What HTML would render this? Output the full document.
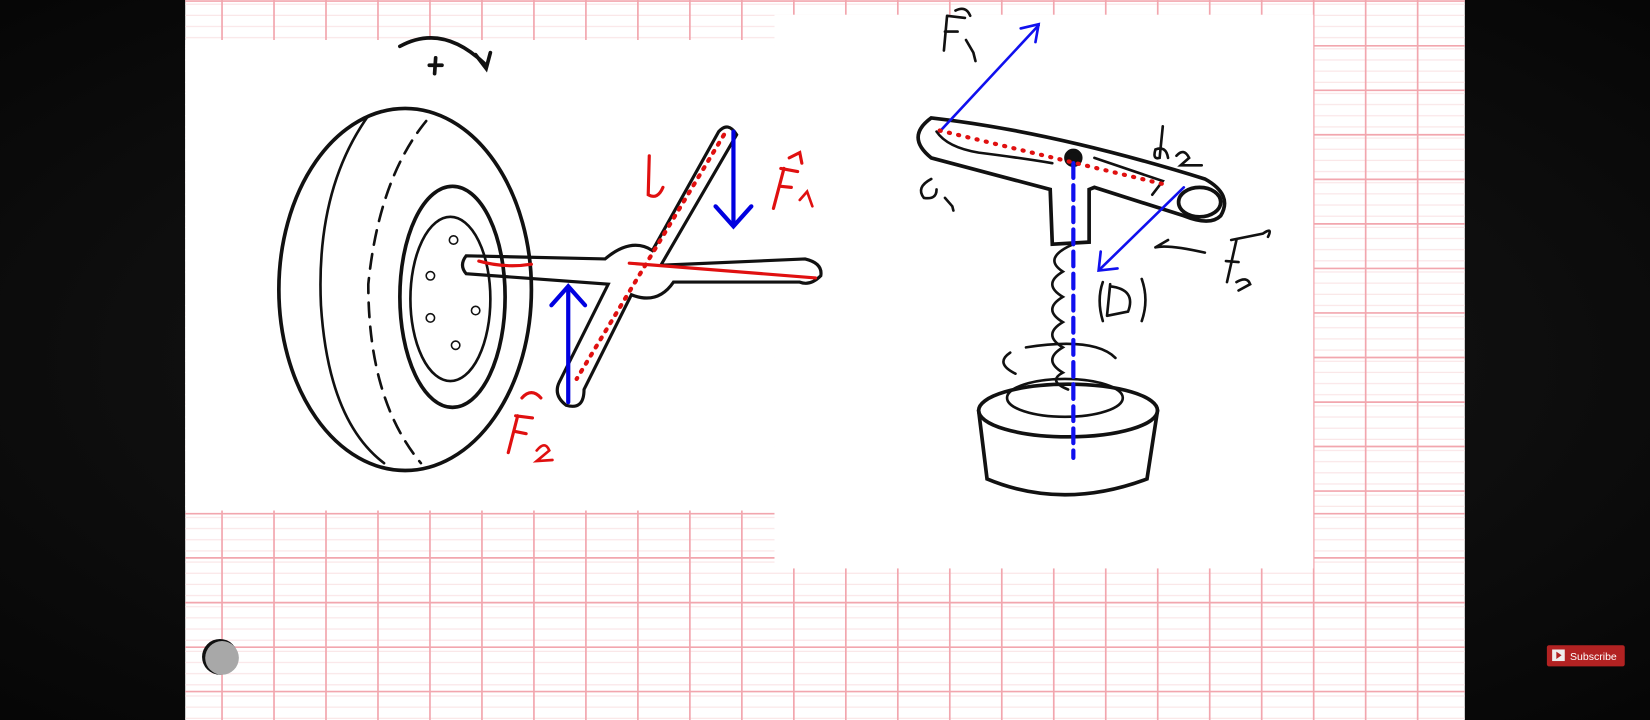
<!DOCTYPE html>
<html><head><meta charset="utf-8"><style>
html,body{margin:0;padding:0;background:#0b0b0b;}
svg{display:block}
text{font-family:"Liberation Sans",sans-serif;}
</style></head><body>
<svg width="1650" height="720" viewBox="0 0 1568 684" preserveAspectRatio="none" xmlns="http://www.w3.org/2000/svg">
<defs>
<radialGradient id="bg" cx="50%" cy="50%" r="70%"><stop offset="0" stop-color="#1a1a1a"/><stop offset="1" stop-color="#060606"/></radialGradient>
<pattern id="minor" x="0" y="0" width="1568" height="10.6" patternUnits="userSpaceOnUse"><line x1="0" y1="4" x2="1568" y2="4" stroke="#fae3e5" stroke-width="1"/></pattern>
</defs>
<rect width="1568" height="684" fill="url(#bg)"/>
<rect x="176" y="0" width="1216" height="684" fill="#fff"/>
<rect x="176" y="0" width="1216" height="684" fill="url(#minor)"/>
<g stroke="#f2a6ae" stroke-width="1.6">
<line x1="211" y1="0" x2="211" y2="684"/><line x1="260.4" y1="0" x2="260.4" y2="684"/><line x1="309.8" y1="0" x2="309.8" y2="684"/><line x1="359.2" y1="0" x2="359.2" y2="684"/><line x1="408.6" y1="0" x2="408.6" y2="684"/><line x1="458" y1="0" x2="458" y2="684"/><line x1="507.4" y1="0" x2="507.4" y2="684"/><line x1="556.8" y1="0" x2="556.8" y2="684"/><line x1="606.2" y1="0" x2="606.2" y2="684"/><line x1="655.6" y1="0" x2="655.6" y2="684"/><line x1="705" y1="0" x2="705" y2="684"/><line x1="754.4" y1="0" x2="754.4" y2="684"/><line x1="803.8" y1="0" x2="803.8" y2="684"/><line x1="853.2" y1="0" x2="853.2" y2="684"/><line x1="902.6" y1="0" x2="902.6" y2="684"/><line x1="952" y1="0" x2="952" y2="684"/><line x1="1001.4" y1="0" x2="1001.4" y2="684"/><line x1="1050.8" y1="0" x2="1050.8" y2="684"/><line x1="1100.2" y1="0" x2="1100.2" y2="684"/><line x1="1149.6" y1="0" x2="1149.6" y2="684"/><line x1="1199" y1="0" x2="1199" y2="684"/><line x1="1248.4" y1="0" x2="1248.4" y2="684"/><line x1="1297.8" y1="0" x2="1297.8" y2="684"/><line x1="1347.2" y1="0" x2="1347.2" y2="684"/>
<line x1="176" y1="1" x2="1392" y2="1"/><line x1="176" y1="43.5" x2="1392" y2="43.5"/><line x1="176" y1="85.8" x2="1392" y2="85.8"/><line x1="176" y1="128" x2="1392" y2="128"/><line x1="176" y1="170.4" x2="1392" y2="170.4"/><line x1="176" y1="212.7" x2="1392" y2="212.7"/><line x1="176" y1="255" x2="1392" y2="255"/><line x1="176" y1="297.3" x2="1392" y2="297.3"/><line x1="176" y1="339.6" x2="1392" y2="339.6"/><line x1="176" y1="382" x2="1392" y2="382"/><line x1="176" y1="424.2" x2="1392" y2="424.2"/><line x1="176" y1="466.5" x2="1392" y2="466.5"/><line x1="176" y1="488" x2="1392" y2="488"/><line x1="176" y1="530" x2="1392" y2="530"/><line x1="176" y1="572.5" x2="1392" y2="572.5"/><line x1="176" y1="614.8" x2="1392" y2="614.8"/><line x1="176" y1="657" x2="1392" y2="657"/>
</g>
<rect x="176" y="38" width="560" height="447" fill="#fff"/>
<rect x="736" y="14" width="512" height="526" fill="#fff"/>

<!-- left drawing -->
<g fill="none" stroke="#111" stroke-width="3.5" stroke-linecap="round">
<path d="M380 44 Q420 22 460 60 M452 52 L462 65 L466 50"/>
<path d="M408 62 L420 62 M414 55 L413 70"/>
<ellipse cx="385" cy="275" rx="120" ry="172"/>
<path d="M350 110 Q300 180 305 290 Q312 400 365 440" stroke-width="2.5"/>
<path d="M405 115 Q360 170 350 270 Q350 380 400 440" stroke-dasharray="14 9" stroke-width="2.5"/>
<ellipse cx="430" cy="282" rx="50" ry="105"/>
<ellipse cx="428" cy="284" rx="38" ry="78" stroke-width="2.5"/>
<circle cx="409" cy="262" r="4" stroke-width="1.5"/><circle cx="431" cy="228" r="4" stroke-width="1.5"/><circle cx="452" cy="295" r="4" stroke-width="1.5"/><circle cx="433" cy="328" r="4" stroke-width="1.5"/><circle cx="409" cy="302" r="4" stroke-width="1.5"/>
<path d="M443 243 L575 246 Q600 225 620 238 L683 125 Q692 115 700 128 L628 252 L765 246 Q782 250 780 262 Q770 272 760 268 L640 268 Q625 290 600 280 L555 370 Q555 390 538 385 Q525 375 532 362 L578 270 L443 260 Q436 252 443 243 Z" stroke-width="3"/>
</g>
<g stroke="#0000e0" stroke-width="4" fill="none" stroke-linecap="round">
<line x1="697" y1="125" x2="697" y2="212"/><path d="M680 196 L697 215 L714 196"/>
<line x1="540" y1="382" x2="540" y2="275"/><path d="M524 290 L540 272 L556 290"/>
</g>
<g stroke="#e01010" fill="none" stroke-linecap="round">
<line x1="688" y1="128" x2="548" y2="360" stroke-width="4" stroke-dasharray="2 7"/>
<path d="M598 250 L775 264" stroke-width="3"/>
<path d="M455 248 Q480 255 505 251" stroke-width="3"/>
<path d="M617 148 L616 185 Q625 190 630 178" stroke-width="3"/>
<path d="M745 160 L735 198 M742 177 L752 178 M742 160 L758 163 M750 150 L760 145 L762 155" stroke-width="3"/>
<path d="M760 190 L767 182 L772 196" stroke-width="2.5"/>
<path d="M492 395 L483 430 M490 410 L500 412 M490 395 L506 397 M496 378 Q505 368 514 378" stroke-width="3"/>
<path d="M510 428 Q518 418 522 428 L510 438 L525 437" stroke-width="2.5"/>
</g>

<!-- right drawing -->
<g fill="none" stroke="#111" stroke-width="3.5" stroke-linecap="round">
<path d="M885 112 Q1000 125 1145 170 Q1172 185 1160 205 Q1150 215 1125 205 L1040 178 L1035 180 L1035 230 L1000 232 L998 180 L885 150 Q860 130 885 112 Z"/>
<ellipse cx="1140" cy="192" rx="20" ry="14"/>
<path d="M1020 232 Q990 245 1010 258 Q990 270 1010 282 Q990 294 1010 306 Q990 318 1010 330 Q990 342 1010 354 Q995 362 1015 370" stroke-width="2.5"/>
<ellipse cx="1015" cy="390" rx="85" ry="25"/>
<ellipse cx="1012" cy="378" rx="55" ry="18" stroke-width="2.5"/>
<path d="M930 390 L938 455 Q1010 485 1090 455 L1100 390"/>
<path d="M960 335 Q945 345 965 355 M975 330 Q1040 320 1060 340" stroke-width="2.5"/>
<path d="M890 125 Q900 140 930 145 Q970 150 1000 155" stroke-width="2.5"/>
<path d="M1040 150 L1105 172 L1095 185" stroke-width="2.5"/>
<circle cx="1020" cy="150" r="7" fill="#111"/>
<path d="M885 170 Q870 178 878 188 Q890 190 890 180 M898 188 L905 196 L906 200" stroke-width="2.5"/>
<path d="M1105 120 L1102 150 Q1095 152 1098 142 Q1108 138 1110 150 M1118 148 Q1125 140 1130 150 L1122 157 L1142 157" stroke-width="2.5"/>
<path d="M1098 235 Q1110 232 1145 240 M1098 235 L1110 228" stroke-width="2.5"/>
<path d="M1175 228 L1166 268 M1165 248 L1177 249 M1170 228 L1200 222 Q1210 215 1205 225 M1175 268 Q1185 262 1188 270 L1177 276" stroke-width="2.5"/>
<path d="M1055 270 L1052 300 M1055 272 Q1080 275 1072 296 L1052 300 M1048 268 Q1042 285 1048 305 M1085 265 Q1092 285 1085 305" stroke-width="2.5"/>
<path d="M900 15 L897 48 M898 30 L910 30 M900 15 L917 17 M908 10 Q918 5 922 15 M918 38 L925 50 L927 58" stroke-width="2.5"/>
</g>
<g stroke="#1010ee" stroke-width="2.5" fill="none" stroke-linecap="round">
<line x1="893" y1="125" x2="987" y2="24"/><path d="M970 27 L987 23 L984 40"/>
<line x1="1125" y1="178" x2="1045" y2="256"/><path d="M1046 239 L1044 257 L1062 255"/>
<line x1="1020" y1="155" x2="1020" y2="435" stroke-width="4" stroke-dasharray="14 7"/>
</g>
<line x1="893" y1="124" x2="1110" y2="176" stroke="#e01010" stroke-width="4" stroke-linecap="round" stroke-dasharray="1 8" fill="none"/>

<!-- UI -->
<circle cx="209" cy="624" r="17" fill="#111"/>
<circle cx="211" cy="625" r="16" fill="#a8a8a8"/>
<rect x="1470" y="613" width="74" height="20" rx="2" fill="#b22222"/>
<rect x="1475" y="617" width="12" height="11" fill="#eee"/>
<path d="M1479 619 L1484 622.5 L1479 626Z" fill="#b22222"/>
<text x="1492" y="627" font-size="10" fill="#fff">Subscribe</text>
</svg>
</body></html>
